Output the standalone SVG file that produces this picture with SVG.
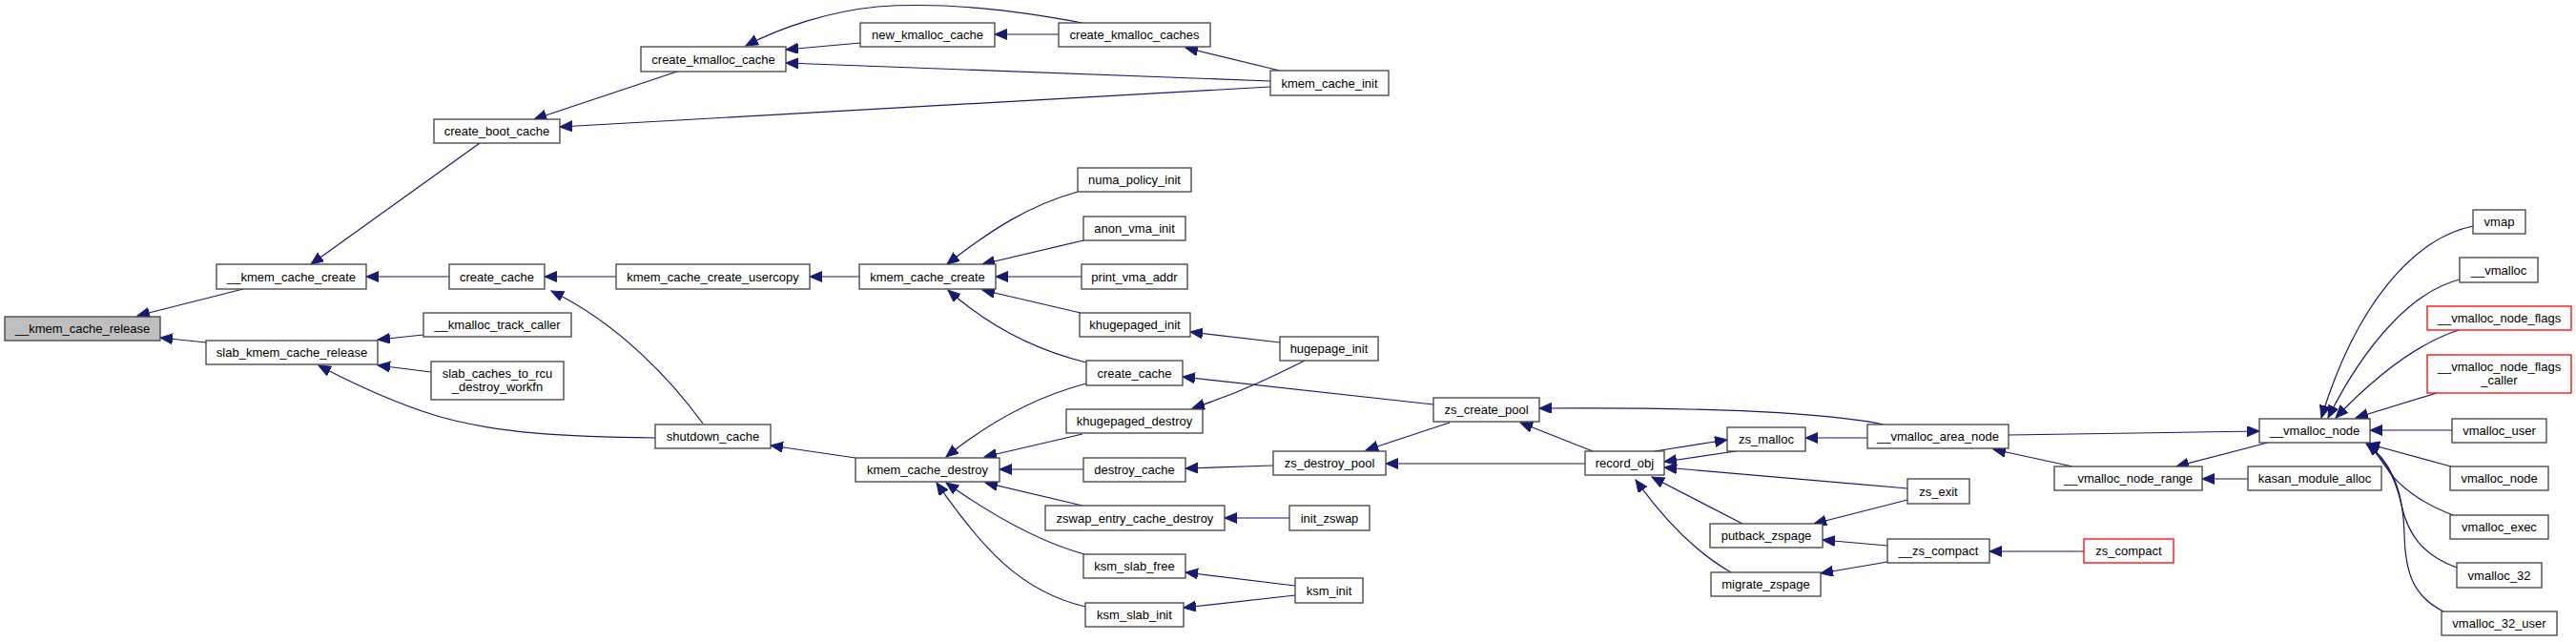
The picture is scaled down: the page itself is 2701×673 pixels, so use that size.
<svg xmlns="http://www.w3.org/2000/svg" width="2701" height="673" viewBox="0 0 2701 673">
<style>
.n rect{fill:#ffffff;stroke:#404040;stroke-width:1.3}
.n.main rect{fill:#bfbfbf}
.n.red rect{stroke:#ff0000}
.n text{font-family:"Liberation Sans",Arial,Helvetica,sans-serif;font-size:13px;text-anchor:middle;fill:#000}
#edges path{fill:none;stroke:#191970;stroke-width:1.2;marker-end:url(#ah)}
</style>
<defs>
<marker id="ah" markerWidth="14" markerHeight="12" refX="13" refY="5.5" orient="auto" markerUnits="userSpaceOnUse">
<path d="M0,0 L13,5.5 L0,11 z" fill="#191970" stroke="#191970" stroke-width="1"/>
</marker>
</defs>
<rect width="2701" height="673" fill="#ffffff"/>
<g id="edges">
<path d="M216,359 L168,354"/>
<path d="M255,303 L144,331"/>
<path d="M471,290 L384,290"/>
<path d="M503,150 L326,277"/>
<path d="M710,75 L560,125"/>
<path d="M1332,91 Q960,113 587,133"/>
<path d="M1332,85 Q1080,75 824,66"/>
<path d="M902,45 L824,52"/>
<path d="M1135,24 C1060,10 990,2 920,7 C870,12 820,28 782,48"/>
<path d="M1110,36 L1043,36"/>
<path d="M1342,74 L1243,50"/>
<path d="M646,290 L571,290"/>
<path d="M901,290 L849,290"/>
<path d="M737,444 C705,400 650,340 578,305"/>
<path d="M687,459 C600,458 520,455 455,435 C410,421 370,402 334,383"/>
<path d="M444,351 L396,356"/>
<path d="M452,390 L396,383"/>
<path d="M897,480 L808,467"/>
<path d="M1130,201 C1080,215 1040,240 993,277"/>
<path d="M1136,252 L1030,277"/>
<path d="M1134,290 L1044,290"/>
<path d="M1133,328 L1030,304"/>
<path d="M1139,380 C1090,368 1040,345 994,304"/>
<path d="M1139,402 C1090,415 1040,440 992,479"/>
<path d="M1135,455 L1032,479"/>
<path d="M1136,492 L1048,492"/>
<path d="M1135,530 L1033,506"/>
<path d="M1137,581 C1090,568 1040,540 992,506"/>
<path d="M1138,636 C1070,620 1030,575 982,506"/>
<path d="M1342,359 L1248,348"/>
<path d="M1368,378 C1340,392 1300,412 1250,428"/>
<path d="M1503,424 L1240,395"/>
<path d="M1335,488 L1243,491"/>
<path d="M1352,543 L1284,543"/>
<path d="M1358,614 L1243,600"/>
<path d="M1358,624 L1241,637"/>
<path d="M1520,443 L1432,472"/>
<path d="M1670,473 L1594,443"/>
<path d="M1662,486 L1453,486"/>
<path d="M1975,445 C1900,430 1760,427 1614,428"/>
<path d="M1735,473 L1811,461"/>
<path d="M1820,473 L1745,484"/>
<path d="M2000,512 L1745,490"/>
<path d="M1827,549 L1732,500"/>
<path d="M1815,600 C1780,580 1745,545 1715,503"/>
<path d="M1958,459 L1893,459"/>
<path d="M2000,524 L1902,549"/>
<path d="M1979,572 L1911,566"/>
<path d="M1979,589 L1909,601"/>
<path d="M2185,578 L2086,578"/>
<path d="M2173,489 L2090,471"/>
<path d="M2106,456 L2369,452"/>
<path d="M2378,464 L2282,489"/>
<path d="M2357,502 L2309,502"/>
<path d="M2593,237 C2530,250 2470,320 2434,438"/>
<path d="M2579,293 C2530,305 2480,360 2441,438"/>
<path d="M2578,346 C2535,360 2490,395 2449,438"/>
<path d="M2555,412 L2470,438"/>
<path d="M2571,451 L2485,451"/>
<path d="M2570,489 L2482,465"/>
<path d="M2572,540 C2540,528 2515,510 2502,490 C2495,480 2490,472 2482,465"/>
<path d="M2576,595 C2540,582 2525,560 2518,530 C2512,500 2500,480 2482,465"/>
<path d="M2562,641 C2530,625 2522,600 2521,560 C2520,510 2505,482 2481,465"/>
</g>
<g id="n1" class="n main"><rect x="5" y="332" width="163" height="25"/><text x="86.5" y="349">__kmem_cache_release</text></g>
<g id="n2" class="n"><rect x="227" y="277" width="157" height="26"/><text x="305.5" y="295">__kmem_cache_create</text></g>
<g id="n3" class="n"><rect x="216" y="357" width="180" height="25"/><text x="306" y="374">slab_kmem_cache_release</text></g>
<g id="n4" class="n"><rect x="455" y="125" width="132" height="25"/><text x="521" y="142">create_boot_cache</text></g>
<g id="n5" class="n"><rect x="471" y="277" width="100" height="26"/><text x="521" y="295">create_cache</text></g>
<g id="n6" class="n"><rect x="444" y="328" width="155" height="25"/><text x="521.5" y="345">__kmalloc_track_caller</text></g>
<g id="n7" class="n"><rect x="452" y="379" width="139" height="40"/><text x="521.5" y="396">slab_caches_to_rcu</text><text x="521.5" y="410">_destroy_workfn</text></g>
<g id="n8" class="n"><rect x="687" y="445" width="121" height="25"/><text x="747.5" y="462">shutdown_cache</text></g>
<g id="n9" class="n"><rect x="672" y="49" width="152" height="26"/><text x="748" y="67">create_kmalloc_cache</text></g>
<g id="n10" class="n"><rect x="646" y="277" width="203" height="26"/><text x="747.5" y="295">kmem_cache_create_usercopy</text></g>
<g id="n11" class="n"><rect x="902" y="24" width="141" height="25"/><text x="972.5" y="41">new_kmalloc_cache</text></g>
<g id="n12" class="n"><rect x="1110" y="24" width="159" height="25"/><text x="1189.5" y="41">create_kmalloc_caches</text></g>
<g id="n13" class="n"><rect x="1332" y="74" width="124" height="26"/><text x="1394" y="92">kmem_cache_init</text></g>
<g id="n14" class="n"><rect x="901" y="277" width="143" height="26"/><text x="972.5" y="295">kmem_cache_create</text></g>
<g id="n15" class="n"><rect x="897" y="480" width="151" height="25"/><text x="972.5" y="497">kmem_cache_destroy</text></g>
<g id="n16" class="n"><rect x="1130" y="176" width="119" height="25"/><text x="1189.5" y="193">numa_policy_init</text></g>
<g id="n17" class="n"><rect x="1136" y="227" width="107" height="25"/><text x="1189.5" y="244">anon_vma_init</text></g>
<g id="n18" class="n"><rect x="1134" y="277" width="111" height="26"/><text x="1189.5" y="295">print_vma_addr</text></g>
<g id="n19" class="n"><rect x="1132" y="328" width="116" height="25"/><text x="1190" y="345">khugepaged_init</text></g>
<g id="n20" class="n"><rect x="1139" y="378" width="101" height="26"/><text x="1189.5" y="396">create_cache</text></g>
<g id="n21" class="n"><rect x="1118" y="429" width="143" height="25"/><text x="1189.5" y="446">khugepaged_destroy</text></g>
<g id="n22" class="n"><rect x="1136" y="480" width="107" height="25"/><text x="1189.5" y="497">destroy_cache</text></g>
<g id="n23" class="n"><rect x="1096" y="530" width="188" height="26"/><text x="1190" y="548">zswap_entry_cache_destroy</text></g>
<g id="n24" class="n"><rect x="1136" y="581" width="107" height="25"/><text x="1189.5" y="598">ksm_slab_free</text></g>
<g id="n25" class="n"><rect x="1138" y="632" width="103" height="25"/><text x="1189.5" y="649">ksm_slab_init</text></g>
<g id="n26" class="n"><rect x="1342" y="353" width="103" height="25"/><text x="1393.5" y="370">hugepage_init</text></g>
<g id="n27" class="n"><rect x="1335" y="473" width="118" height="25"/><text x="1394" y="490">zs_destroy_pool</text></g>
<g id="n28" class="n"><rect x="1352" y="530" width="84" height="26"/><text x="1394" y="548">init_zswap</text></g>
<g id="n29" class="n"><rect x="1358" y="606" width="71" height="26"/><text x="1393.5" y="624">ksm_init</text></g>
<g id="n30" class="n"><rect x="1503" y="417" width="111" height="25"/><text x="1558.5" y="434">zs_create_pool</text></g>
<g id="n31" class="n"><rect x="1662" y="473" width="83" height="25"/><text x="1703.5" y="490">record_obj</text></g>
<g id="n32" class="n"><rect x="1811" y="448" width="82" height="25"/><text x="1852" y="465">zs_malloc</text></g>
<g id="n33" class="n"><rect x="1793" y="549" width="118" height="25"/><text x="1852" y="566">putback_zspage</text></g>
<g id="n34" class="n"><rect x="1794" y="600" width="115" height="25"/><text x="1851.5" y="617">migrate_zspage</text></g>
<g id="n35" class="n"><rect x="1958" y="445" width="148" height="25"/><text x="2032" y="462">__vmalloc_area_node</text></g>
<g id="n36" class="n"><rect x="2000" y="502" width="65" height="26"/><text x="2032.5" y="520">zs_exit</text></g>
<g id="n37" class="n"><rect x="1979" y="565" width="107" height="25"/><text x="2032.5" y="582">__zs_compact</text></g>
<g id="n38" class="n"><rect x="2154" y="489" width="155" height="25"/><text x="2231.5" y="506">__vmalloc_node_range</text></g>
<g id="n39" class="n red"><rect x="2185" y="565" width="94" height="25"/><text x="2232" y="582">zs_compact</text></g>
<g id="n40" class="n"><rect x="2369" y="439" width="116" height="25"/><text x="2427" y="456">__vmalloc_node</text></g>
<g id="n41" class="n"><rect x="2357" y="489" width="140" height="25"/><text x="2427" y="506">kasan_module_alloc</text></g>
<g id="n42" class="n"><rect x="2593" y="220" width="55" height="25"/><text x="2620.5" y="237">vmap</text></g>
<g id="n43" class="n"><rect x="2579" y="270" width="82" height="26"/><text x="2620" y="288">__vmalloc</text></g>
<g id="n44" class="n red"><rect x="2545" y="321" width="151" height="25"/><text x="2620.5" y="338">__vmalloc_node_flags</text></g>
<g id="n45" class="n red"><rect x="2545" y="372" width="151" height="40"/><text x="2620.5" y="389">__vmalloc_node_flags</text><text x="2620.5" y="403">_caller</text></g>
<g id="n46" class="n"><rect x="2571" y="439" width="99" height="25"/><text x="2620.5" y="456">vmalloc_user</text></g>
<g id="n47" class="n"><rect x="2569" y="489" width="103" height="25"/><text x="2620.5" y="506">vmalloc_node</text></g>
<g id="n48" class="n"><rect x="2569" y="540" width="103" height="25"/><text x="2620.5" y="557">vmalloc_exec</text></g>
<g id="n49" class="n"><rect x="2576" y="590" width="89" height="26"/><text x="2620.5" y="608">vmalloc_32</text></g>
<g id="n50" class="n"><rect x="2560" y="641" width="121" height="25"/><text x="2620.5" y="658">vmalloc_32_user</text></g>
</svg>
